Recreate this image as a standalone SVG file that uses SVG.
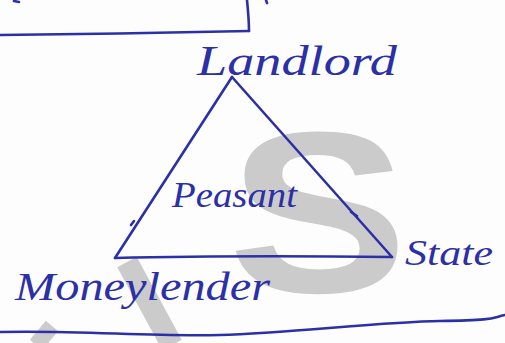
<svg xmlns="http://www.w3.org/2000/svg" width="505" height="343" viewBox="0 0 505 343">
<style>
.ink{fill:none;stroke:#2c30a6;stroke-width:2.6;stroke-linecap:round;stroke-linejoin:round}
.hw{font-family:"Liberation Serif","DejaVu Serif",serif;font-style:italic;fill:#2c30a6}
.wm{fill:#cbcbcb}
</style>
<rect width="505" height="343" fill="#fdfdfe"/>
<g id="watermark">
<text class="wm" x="228" y="292" font-family="Liberation Sans, Arial, sans-serif" font-weight="bold" font-size="230" textLength="180" lengthAdjust="spacingAndGlyphs">S</text>
<line x1="127" y1="262" x2="172" y2="345" stroke="#cbcbcb" stroke-width="22"/>
<line x1="52" y1="326" x2="36" y2="345" stroke="#cbcbcb" stroke-width="16"/>
</g>
<g id="page-lines">
<path class="ink" d="M0,35 C80,34 170,33 249,31"/>
<path class="ink" d="M247,0 C248,10 249,20 249,31"/>
<path class="ink" d="M266,0 L267,3"/>
<path class="ink" d="M14,1 L19,2"/>
<path class="ink" d="M0,332 C80,330 150,337 220,335 S380,322 440,321 S490,318 505,315"/>
</g>
<g id="connectors">
<path class="ink" d="M232,77 L115,258"/>
<path class="ink" d="M232,77 L392,257"/>
<path class="ink" d="M115,258 C200,256 300,256 392,257"/>
<path class="ink" d="M131,225 L134,221" stroke-width="3.5"/>
<path class="ink" d="M351,212 L357,216" stroke-width="3.5"/>
</g>
<g id="landlord">
<text class="hw" x="197" y="75" font-size="42" textLength="200" lengthAdjust="spacingAndGlyphs">Landlord</text>
</g>
<g id="peasant">
<text class="hw" x="172" y="207" font-size="36" textLength="125" lengthAdjust="spacingAndGlyphs">Peasant</text>
</g>
<g id="state">
<text class="hw" x="405" y="265" font-size="36" textLength="88" lengthAdjust="spacingAndGlyphs">State</text>
</g>
<g id="moneylender">
<text class="hw" x="15" y="300" font-size="40" textLength="255" lengthAdjust="spacingAndGlyphs">Moneylender</text>
</g>
</svg>
